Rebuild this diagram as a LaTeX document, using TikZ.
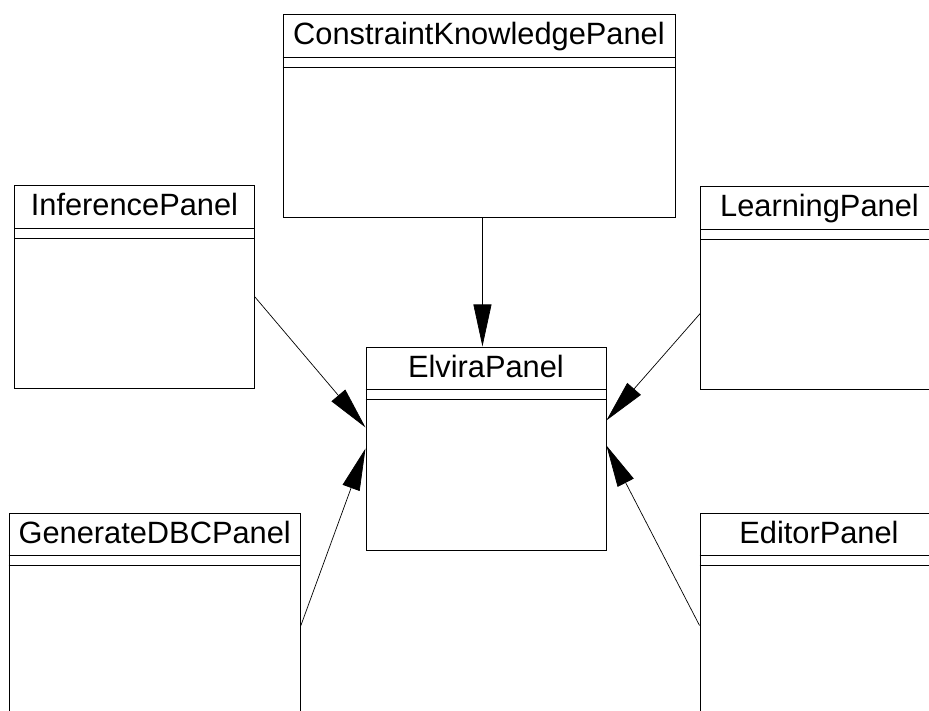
\documentclass[tikz,border=0pt]{standalone}
\usepackage{fontspec}
\setmainfont{Liberation Sans}
\usetikzlibrary{arrows.meta,positioning}
\tikzset{
	>={Triangle[length=42pt,width=18pt]},
}

\begin{document}
\begin{tikzpicture}[x=1pt, y=-1pt,
	class/.style = {draw, line width=0.9pt, anchor=north west, inner sep=0, minimum height=203pt},
	title/.style = {anchor=base, inner sep=0, font=\fontsize{30.8pt}{36pt}\selectfont},
	link/.style = {->, line width=0.7pt}]
\clip (0,0) rectangle (929,711);
\node[class, minimum width=392pt, minimum height=202.5pt] (constraintpanel) at (282.5,14.5) {};
\node[class, minimum width=240pt] (inferencepanel) at (14,185) {};
\node[class, minimum width=238pt, minimum height=202.5pt] (learningpanel) at (700,186) {};
\node[class, minimum width=240pt] (elvirapanel) at (365.5,346.5) {};
\node[class, minimum width=291.5pt] (generatepanel) at (8.5,512.5) {};
\node[class, minimum width=238pt] (editorpanel) at (699.5,512.5) {};
\node[title] (constrainttitle) at ([yshift=-30.5pt]constraintpanel.north) {ConstraintKnowledgePanel};
\node[title] (inferencetitle) at ([yshift=-30.5pt]inferencepanel.north) {InferencePanel};
\node[title] (learningtitle) at ([yshift=-30.5pt]learningpanel.north) {LearningPanel};
\node[title] (elviratitle) at ([yshift=-30.5pt]elvirapanel.north) {ElviraPanel};
\node[title] (generatetitle) at ([yshift=-30.5pt]generatepanel.north) {GenerateDBCPanel};
\node[title] (editortitle) at ([yshift=-30.5pt]editorpanel.north) {EditorPanel};
% compartments
\foreach \p in {constraintpanel,inferencepanel,learningpanel,elvirapanel,generatepanel,editorpanel}{
	\draw[line width=0.9pt] ([yshift=-43pt]\p.north west) -- ([yshift=-43pt]\p.north east);
	\draw[line width=0.9pt] ([yshift=-53pt]\p.north west) -- ([yshift=-53pt]\p.north east);
}
% inheritance
\draw[link] ([xshift=3.5pt]constraintpanel.south) -- ([xshift=-3.5pt]elvirapanel.north);
\draw[link] ([yshift=-10pt]inferencepanel.east) -- ([yshift=21pt]elvirapanel.west);
\draw[link] ([yshift=-26pt]learningpanel.west) -- ([yshift=28pt]elvirapanel.east);
\draw[link] ([yshift=-11pt]generatepanel.east) -- (elvirapanel.west);
\draw[link] ([yshift=-11pt]editorpanel.west) -- ([yshift=3pt]elvirapanel.east);
\end{tikzpicture}
\end{document}
